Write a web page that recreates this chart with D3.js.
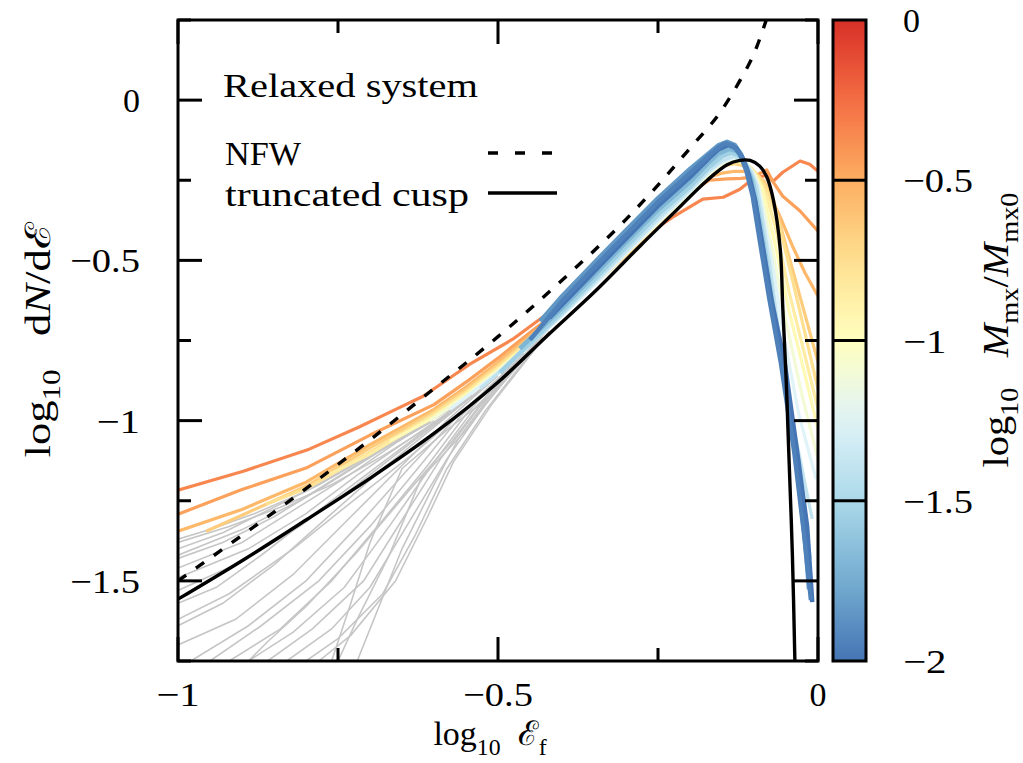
<!DOCTYPE html>
<html><head><meta charset="utf-8">
<script src="https://cdn.jsdelivr.net/npm/d3@7/dist/d3.min.js"></script>
<style>
body{margin:0;background:#fff;}
svg text{font-family:"Liberation Serif","DejaVu Serif",serif;fill:#000;}
</style></head><body>
<svg id="chart" width="1023" height="763"></svg>
<script>
// ---------- tick labels / axes ----------
const xTicks = [-1, -0.5, 0];
const xMinorTicks = [-0.75, -0.25];
const yTicks = [0, -0.5, -1, -1.5];
const yMinorTicks = [0.25, -0.25, -0.75, -1.25, -1.75];
const cbTicks = [0, -0.5, -1, -1.5, -2];
const cbPalette = ["#d73027","#f46d43","#fdae61","#fee090","#ffffbf","#e0f3f8","#abd9e9","#74add1","#4575b4"];

// ---------- model curves ----------
const nfwCurve = [[-1.0,-1.500],[-0.9,-1.358],[-0.8,-1.212],[-0.7,-1.060],[-0.6,-0.900],[-0.5,-0.738],[-0.4,-0.562],[-0.3,-0.372],[-0.25,-0.265],[-0.2,-0.150],[-0.15,-0.030],[-0.12,0.068],[-0.1,0.145],[-0.08,0.255]];
const cuspCurve = [[-1.0,-1.557],[-0.9,-1.437],[-0.8,-1.310],[-0.7,-1.180],[-0.6,-1.040],[-0.5,-0.880],[-0.423,-0.735],[-0.345,-0.590],[-0.278,-0.455],[-0.227,-0.355],[-0.173,-0.250],[-0.142,-0.202],[-0.122,-0.188],[-0.106,-0.188],[-0.091,-0.206],[-0.080,-0.240],[-0.070,-0.309],[-0.059,-0.465],[-0.055,-0.650],[-0.050,-0.860],[-0.046,-1.080],[-0.040,-1.420],[-0.036,-1.760]];

// ---------- simulation snapshots (colour = log10 Mmx/Mmx0) ----------
const snapMass = [-0.35,-0.45,-0.55,-0.65,-0.75,-0.85,-0.95,-1.1,-1.25,-1.4,-1.55,-1.7,-1.85,-2.0,-1.95];
const snapA = [[-1.000,-1.217],[-0.898,-1.158],[-0.795,-1.089],[-0.717,-1.020],[-0.659,-0.964],[-0.617,-0.924],[-0.544,-0.824],[-0.477,-0.746],[-0.403,-0.637],[-0.341,-0.548],[-0.278,-0.434],[-0.227,-0.365],[-0.180,-0.309],[-0.148,-0.303],[-0.122,-0.278],[-0.102,-0.246],[-0.080,-0.234],[-0.070,-0.253],[-0.055,-0.225],[-0.028,-0.190],[-0.013,-0.200],[0.000,-0.222]];
const snapB = [[-1.0,-1.292],[-0.9,-1.215],[-0.8,-1.148],[-0.7,-1.045],[-0.6,-0.950],[-0.55,-0.880],[-0.5,-0.805],[-0.45,-0.725],[-0.4,-0.648],[-0.35,-0.565],[-0.3,-0.478],[-0.25,-0.385],[-0.2,-0.290],[-0.17,-0.250],[-0.142,-0.246],[-0.12,-0.244],[-0.102,-0.240],[-0.080,-0.218],[-0.070,-0.256],[-0.055,-0.300],[-0.028,-0.346],[0.0,-0.409]];
const snapC = [[-1.0,-1.345],[-0.9,-1.277],[-0.8,-1.192],[-0.7,-1.075],[-0.6,-0.965],[-0.55,-0.895],[-0.5,-0.818],[-0.45,-0.735],[-0.4,-0.655],[-0.35,-0.575],[-0.3,-0.485],[-0.25,-0.390],[-0.2,-0.290],[-0.17,-0.240],[-0.15,-0.228],[-0.13,-0.222],[-0.114,-0.222],[-0.100,-0.235],[-0.085,-0.262],[-0.06,-0.360],[-0.04,-0.455],[-0.02,-0.540],[0.0,-0.612]];
const snapD = [[-0.956,-1.345],[-0.9,-1.295],[-0.8,-1.205],[-0.7,-1.085],[-0.6,-0.972],[-0.55,-0.903],[-0.5,-0.826],[-0.45,-0.742],[-0.4,-0.660],[-0.35,-0.577],[-0.3,-0.482],[-0.25,-0.382],[-0.2,-0.278],[-0.17,-0.225],[-0.15,-0.205],[-0.13,-0.198],[-0.115,-0.205],[-0.1,-0.232],[-0.085,-0.250],[-0.070,-0.309],[-0.047,-0.476],[-0.023,-0.650],[0.0,-0.817]];
const snapE = [[-0.863,-1.261],[-0.8,-1.212],[-0.7,-1.098],[-0.6,-0.978],[-0.55,-0.910],[-0.5,-0.832],[-0.45,-0.748],[-0.4,-0.662],[-0.35,-0.574],[-0.3,-0.478],[-0.25,-0.380],[-0.2,-0.282],[-0.17,-0.228],[-0.15,-0.205],[-0.125,-0.195],[-0.105,-0.210],[-0.09,-0.245],[-0.08,-0.280],[-0.064,-0.362],[-0.04,-0.560],[-0.02,-0.730],[0.0,-0.902]];
const snapF = [[-0.763,-1.167],[-0.7,-1.104],[-0.6,-0.984],[-0.55,-0.915],[-0.5,-0.838],[-0.45,-0.752],[-0.4,-0.664],[-0.35,-0.575],[-0.3,-0.478],[-0.25,-0.382],[-0.2,-0.285],[-0.17,-0.228],[-0.15,-0.200],[-0.126,-0.188],[-0.108,-0.205],[-0.095,-0.240],[-0.08,-0.300],[-0.066,-0.400],[-0.045,-0.600],[-0.02,-0.800],[0.0,-0.964]];
const snapG = [[-0.669,-1.064],[-0.6,-0.990],[-0.55,-0.920],[-0.5,-0.842],[-0.45,-0.757],[-0.4,-0.668],[-0.35,-0.576],[-0.3,-0.480],[-0.25,-0.384],[-0.2,-0.290],[-0.17,-0.232],[-0.15,-0.205],[-0.128,-0.190],[-0.11,-0.200],[-0.098,-0.235],[-0.088,-0.270],[-0.082,-0.320],[-0.068,-0.440],[-0.045,-0.660],[-0.02,-0.860],[0.0,-1.027]];
const snapH = [[-0.606,-1.000],[-0.55,-0.925],[-0.5,-0.847],[-0.45,-0.760],[-0.4,-0.670],[-0.35,-0.578],[-0.3,-0.480],[-0.25,-0.384],[-0.2,-0.290],[-0.17,-0.230],[-0.15,-0.200],[-0.128,-0.185],[-0.112,-0.195],[-0.1,-0.230],[-0.092,-0.270],[-0.085,-0.330],[-0.07,-0.480],[-0.05,-0.690],[-0.025,-0.920],[0.0,-1.120]];
const snapI = [[-0.575,-0.965],[-0.5,-0.850],[-0.45,-0.762],[-0.4,-0.672],[-0.35,-0.578],[-0.3,-0.478],[-0.25,-0.380],[-0.2,-0.285],[-0.17,-0.225],[-0.15,-0.195],[-0.13,-0.180],[-0.115,-0.190],[-0.102,-0.225],[-0.093,-0.270],[-0.088,-0.330],[-0.072,-0.500],[-0.055,-0.720],[-0.03,-0.980],[-0.003,-1.183]];
const snapJ = [[-0.528,-0.900],[-0.5,-0.852],[-0.45,-0.764],[-0.4,-0.670],[-0.35,-0.572],[-0.3,-0.472],[-0.25,-0.372],[-0.2,-0.280],[-0.17,-0.220],[-0.15,-0.190],[-0.132,-0.175],[-0.118,-0.185],[-0.105,-0.220],[-0.095,-0.270],[-0.09,-0.330],[-0.076,-0.500],[-0.06,-0.740],[-0.04,-1.000],[-0.02,-1.200],[-0.009,-1.307]];
const snapK = [[-0.497,-0.850],[-0.45,-0.758],[-0.4,-0.660],[-0.35,-0.560],[-0.3,-0.457],[-0.25,-0.357],[-0.2,-0.270],[-0.17,-0.208],[-0.15,-0.176],[-0.135,-0.164],[-0.123,-0.172],[-0.112,-0.205],[-0.102,-0.250],[-0.095,-0.320],[-0.082,-0.480],[-0.066,-0.700],[-0.048,-0.920],[-0.03,-1.150],[-0.013,-1.432]];
const snapL = [[-0.466,-0.775],[-0.4,-0.648],[-0.35,-0.546],[-0.3,-0.443],[-0.25,-0.342],[-0.2,-0.255],[-0.17,-0.193],[-0.155,-0.166],[-0.138,-0.152],[-0.126,-0.160],[-0.115,-0.192],[-0.105,-0.245],[-0.098,-0.320],[-0.085,-0.470],[-0.07,-0.660],[-0.052,-0.860],[-0.032,-1.120],[-0.016,-1.400],[-0.012,-1.495]];
const snapM = [[-0.434,-0.690],[-0.4,-0.612],[-0.35,-0.508],[-0.3,-0.406],[-0.25,-0.306],[-0.2,-0.215],[-0.17,-0.165],[-0.155,-0.140],[-0.142,-0.130],[-0.13,-0.140],[-0.12,-0.170],[-0.11,-0.220],[-0.10,-0.300],[-0.088,-0.450],[-0.074,-0.620],[-0.056,-0.820],[-0.035,-1.100],[-0.02,-1.380],[-0.014,-1.526]];
const snapN = [[-0.42,-0.680],[-0.4,-0.638],[-0.35,-0.535],[-0.3,-0.432],[-0.25,-0.330],[-0.2,-0.240],[-0.17,-0.180],[-0.155,-0.153],[-0.14,-0.140],[-0.128,-0.150],[-0.118,-0.180],[-0.108,-0.235],[-0.098,-0.315],[-0.086,-0.460],[-0.072,-0.630],[-0.052,-0.820],[-0.031,-1.120],[-0.017,-1.330],[-0.009,-1.566]];
const snapO = [[-0.45,-0.748],[-0.4,-0.628],[-0.35,-0.522],[-0.3,-0.420],[-0.25,-0.318],[-0.2,-0.228],[-0.17,-0.172],[-0.155,-0.147],[-0.145,-0.135],[-0.133,-0.142],[-0.122,-0.168],[-0.112,-0.220],[-0.102,-0.300],[-0.09,-0.450],[-0.076,-0.620],[-0.058,-0.820],[-0.037,-1.100],[-0.022,-1.350],[-0.011,-1.560]];
const snapshots = [snapA,snapB,snapC,snapD,snapE,snapF,snapG,snapH,snapI,snapJ,snapK,snapL,snapM,snapN,snapO];

// unresolved (grey) low-energy parts
const greyLines = [
 [[-0.66,-1.06],[-0.72,-1.13],[-0.8,-1.22],[-0.88,-1.29],[-0.95,-1.34],[-1.0,-1.37]],
 [[-0.62,-1.02],[-0.7,-1.11],[-0.78,-1.20],[-0.86,-1.28],[-0.93,-1.35],[-1.0,-1.40]],
 [[-0.6,-1.0],[-0.68,-1.09],[-0.76,-1.19],[-0.85,-1.30],[-0.93,-1.38],[-1.0,-1.43]],
 [[-0.58,-0.97],[-0.66,-1.07],[-0.74,-1.18],[-0.82,-1.28],[-0.9,-1.38],[-1.0,-1.46]],
 [[-0.56,-0.95],[-0.64,-1.06],[-0.72,-1.17],[-0.80,-1.29],[-0.89,-1.40],[-1.0,-1.49]],
 [[-0.54,-0.92],[-0.62,-1.04],[-0.7,-1.16],[-0.78,-1.28],[-0.87,-1.42],[-0.94,-1.52],[-1.0,-1.57]],
 [[-0.52,-0.89],[-0.6,-1.02],[-0.68,-1.15],[-0.76,-1.29],[-0.85,-1.45],[-0.93,-1.57],[-1.0,-1.64]],
 [[-0.5,-0.86],[-0.58,-1.0],[-0.65,-1.14],[-0.73,-1.30],[-0.82,-1.48],[-0.91,-1.62],[-1.0,-1.70]],
 [[-0.49,-0.85],[-0.57,-1.0],[-0.64,-1.15],[-0.72,-1.33],[-0.80,-1.50],[-0.89,-1.64],[-0.98,-1.75]],
 [[-0.48,-0.83],[-0.56,-0.99],[-0.63,-1.16],[-0.70,-1.33],[-0.78,-1.50],[-0.87,-1.64],[-0.95,-1.75]],
 [[-0.47,-0.81],[-0.55,-0.98],[-0.61,-1.14],[-0.68,-1.31],[-0.76,-1.50],[-0.84,-1.65],[-0.92,-1.75]],
 [[-0.46,-0.80],[-0.54,-0.97],[-0.6,-1.13],[-0.67,-1.33],[-0.74,-1.52],[-0.82,-1.66],[-0.89,-1.75]],
 [[-0.45,-0.78],[-0.53,-0.96],[-0.59,-1.12],[-0.65,-1.31],[-0.71,-1.50],[-0.79,-1.65],[-0.86,-1.75]],
 [[-0.44,-0.76],[-0.52,-0.95],[-0.58,-1.12],[-0.64,-1.32],[-0.70,-1.52],[-0.76,-1.65],[-0.83,-1.75]],
 [[-0.43,-0.74],[-0.52,-0.97],[-0.58,-1.15],[-0.63,-1.36],[-0.68,-1.54],[-0.75,-1.68],[-0.80,-1.75]],
 [[-0.42,-0.72],[-0.51,-0.95],[-0.57,-1.13],[-0.61,-1.30],[-0.66,-1.50],[-0.73,-1.67],[-0.78,-1.75]],
 [[-0.42,-0.71],[-0.51,-0.92],[-0.58,-1.03],[-0.65,-1.15],[-0.70,-1.38],[-0.73,-1.57],[-0.76,-1.75]],
 [[-0.43,-0.73],[-0.5,-0.90],[-0.55,-1.03],[-0.62,-1.18],[-0.67,-1.42],[-0.72,-1.62],[-0.75,-1.75]],
 [[-0.53,-0.91],[-0.6,-1.01],[-0.68,-1.11],[-0.76,-1.20],[-0.84,-1.27],[-0.92,-1.33],[-1.0,-1.38]],
 [[-0.57,-0.96],[-0.65,-1.05],[-0.73,-1.15],[-0.81,-1.25],[-0.9,-1.34],[-1.0,-1.42]],
 [[-0.55,-0.94],[-0.63,-1.06],[-0.72,-1.20],[-0.81,-1.33],[-0.9,-1.44],[-1.0,-1.53]],
 [[-0.5,-0.87],[-0.56,-0.98],[-0.63,-1.10],[-0.72,-1.24],[-0.82,-1.40],[-0.92,-1.54],[-1.0,-1.62]],
 [[-0.46,-0.79],[-0.52,-0.93],[-0.57,-1.06],[-0.64,-1.22],[-0.72,-1.41],[-0.80,-1.58],[-0.86,-1.69],[-0.89,-1.75]],
 [[-0.44,-0.75],[-0.5,-0.89],[-0.56,-1.05],[-0.6,-1.20],[-0.65,-1.40],[-0.69,-1.60],[-0.72,-1.75]]
];

// ---------- drawing ----------
const L = 178, R = 818, T = 20, B = 661;
const FS = 34;
const svg = d3.select("#chart");
const x = d3.scaleLinear().domain([-1, 0]).range([L, R]);
const y = d3.scaleLinear().domain([-1.75, 0.25]).range([B, T]);
const cbX0 = 833, cbX1 = 866;
const cbY = d3.scaleLinear().domain([-2, 0]).range([B, T]);
const colour = d3.scaleLinear().domain(cbPalette.map((c,i)=>-i*0.25)).range(cbPalette).interpolate(d3.interpolateRgb);
const fmt = v => v === 0 ? "0" : "\u2212" + Math.abs(v);
// approximate label widths (em) of the original typeset labels
const labelEm = s => Array.from(s).reduce((a,c)=>a+(c==="\u2212"?0.778:(c==="."?0.278:0.5)),0);

svg.append("defs").append("clipPath").attr("id","plotclip")
  .append("rect").attr("x",L).attr("y",T).attr("width",R-L).attr("height",B-T);

const plot = svg.append("g").attr("clip-path","url(#plotclip)");
const line = d3.line().x(d=>x(d[0])).y(d=>y(d[1]));
const smooth = d3.line().x(d=>x(d[0])).y(d=>y(d[1])).curve(d3.curveMonotoneX);
const smoothC = d3.line().x(d=>x(d[0])).y(d=>y(d[1])).curve(d3.curveCatmullRom.alpha(0.5));

plot.selectAll("path.grey").data(greyLines).join("path").attr("class","grey")
  .attr("d", line).attr("fill","none").attr("stroke","#c6c6c6").attr("stroke-width",1.6);

plot.selectAll("path.snap").data(snapshots).join("path").attr("class","snap")
  .attr("d", line).attr("fill","none")
  .attr("stroke",(d,i)=>colour(snapMass[i]))
  .attr("stroke-width",(d,i)=>snapMass[i] <= -1.5 ? 4.5 : 3.2)
  .attr("stroke-linejoin","round");

plot.append("path").datum(nfwCurve).attr("d", smooth).attr("fill","none")
  .attr("stroke","#000").attr("stroke-width",3.4).attr("stroke-dasharray","10,12");
plot.append("path").datum(cuspCurve).attr("d", smoothC).attr("fill","none")
  .attr("stroke","#000").attr("stroke-width",3.4);

// frame and ticks
const ax = svg.append("g");
const majorLen = 24, minorLen = 13;
xTicks.concat(xMinorTicks).forEach(v=>{
  const len = xTicks.includes(v) ? majorLen : minorLen;
  ax.append("line").attr("x1",x(v)).attr("x2",x(v)).attr("y1",B).attr("y2",B-len).attr("stroke","#000").attr("stroke-width",3);
  ax.append("line").attr("x1",x(v)).attr("x2",x(v)).attr("y1",T).attr("y2",T+len).attr("stroke","#000").attr("stroke-width",3);
});
yTicks.concat(yMinorTicks).forEach(v=>{
  const len = yTicks.includes(v) ? majorLen : minorLen;
  ax.append("line").attr("x1",L).attr("x2",L+len).attr("y1",y(v)).attr("y2",y(v)).attr("stroke","#000").attr("stroke-width",3);
  ax.append("line").attr("x1",R).attr("x2",R-len).attr("y1",y(v)).attr("y2",y(v)).attr("stroke","#000").attr("stroke-width",3);
});
ax.append("rect").attr("x",L).attr("y",T).attr("width",R-L).attr("height",B-T)
  .attr("fill","none").attr("stroke","#000").attr("stroke-width",3);

function tickText(g, px, py, anchor, v){
  const s = fmt(v);
  const t = g.append("text").attr("x",px).attr("y",py).attr("text-anchor",anchor)
    .attr("font-size",FS).text(s);
  if (s.length > 1) t.attr("textLength", labelEm(s)*FS).attr("lengthAdjust","spacingAndGlyphs");
  return t;
}
xTicks.forEach(v=> tickText(ax, x(v), B+45, "middle", v));
yTicks.forEach(v=> tickText(ax, L-38, y(v)+12, "end", v));

// math-like text helper
function mathText(sel, parts, fs){
  let shift = 0;
  parts.forEach(p=>{
    const ts = sel.append("tspan").text(p.t);
    const target = p.sub ? fs*0.28 : 0;
    if (target - shift !== 0) ts.attr("dy", target - shift);
    shift = target;
    if (p.sub) ts.attr("font-size", fs*0.7);
    if (p.it) ts.attr("font-style","italic");
  });
}

const TFS = 35;
const xt = ax.append("text").attr("x",490).attr("y",745).attr("text-anchor","middle").attr("font-size",FS);
mathText(xt,[{t:"log"},{t:"10",sub:true},{t:"\u00a0\u00a0\u2130"},{t:"f",sub:true}],FS);

const yt = ax.append("text").attr("transform","translate(50,340) rotate(-90)").attr("text-anchor","middle").attr("font-size",TFS)
  .attr("textLength",235).attr("lengthAdjust","spacingAndGlyphs");
mathText(yt,[{t:"log"},{t:"10",sub:true},{t:"\u00a0\u00a0\u00a0d"},{t:"N",it:true},{t:"/d\u2130"}],TFS);

// legend
const lg = svg.append("g");
lg.append("text").attr("x",223).attr("y",97).attr("font-size",FS).attr("textLength",255).attr("lengthAdjust","spacingAndGlyphs").text("Relaxed system");
lg.append("text").attr("x",225).attr("y",165).attr("font-size",FS).attr("textLength",76).attr("lengthAdjust","spacingAndGlyphs").text("NFW");
lg.append("text").attr("x",225).attr("y",206).attr("font-size",FS).attr("textLength",244).attr("lengthAdjust","spacingAndGlyphs").text("truncated cusp");
lg.append("line").attr("x1",488).attr("x2",556).attr("y1",153).attr("y2",153).attr("stroke","#000").attr("stroke-width",3.4).attr("stroke-dasharray","10,17");
lg.append("line").attr("x1",488).attr("x2",557).attr("y1",193).attr("y2",193).attr("stroke","#000").attr("stroke-width",3.4);

// colour bar
const grad = svg.select("defs").append("linearGradient").attr("id","cbgrad")
  .attr("x1",0).attr("y1",1).attr("x2",0).attr("y2",0);
d3.range(0, 1.0001, 0.05).forEach(t=>{
  const v = -2 + 2*t;
  grad.append("stop").attr("offset",t).attr("stop-color",colour(v));
});
const cb = svg.append("g");
cb.append("rect").attr("x",cbX0).attr("y",T).attr("width",cbX1-cbX0).attr("height",B-T).attr("fill","url(#cbgrad)");
cbTicks.filter(v=>v>-2 && v<0).forEach(v=>{
  cb.append("line").attr("x1",cbX0).attr("x2",cbX1).attr("y1",cbY(v)).attr("y2",cbY(v)).attr("stroke","#000").attr("stroke-width",3);
});
cb.append("rect").attr("x",cbX0).attr("y",T).attr("width",cbX1-cbX0).attr("height",B-T)
  .attr("fill","none").attr("stroke","#000").attr("stroke-width",3);
cbTicks.forEach(v=> tickText(cb, 903, cbY(v)+12, "start", v));
const ct = cb.append("text").attr("transform","translate(1008,330) rotate(-90)").attr("text-anchor","middle").attr("font-size",TFS)
  .attr("textLength",275).attr("lengthAdjust","spacingAndGlyphs");
mathText(ct,[{t:"log"},{t:"10",sub:true},{t:"\u00a0\u00a0\u00a0"},{t:"M",it:true},{t:"mx",sub:true},{t:"/"},{t:"M",it:true},{t:"mx0",sub:true}],TFS);
</script>
</body></html>
